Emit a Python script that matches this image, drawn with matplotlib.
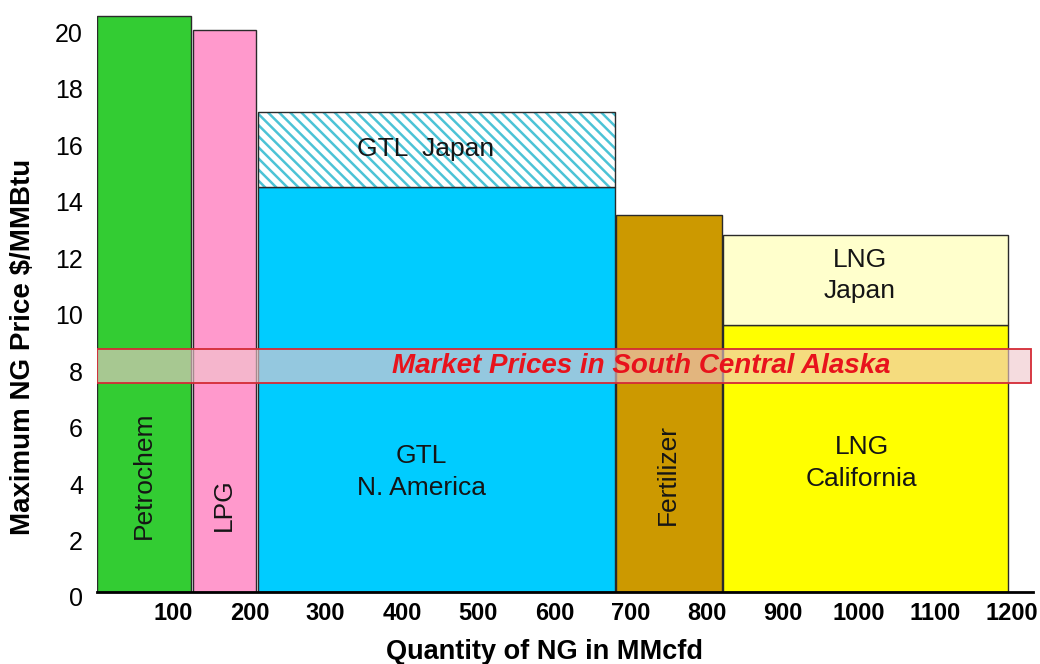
import matplotlib
matplotlib.use("Agg")
import matplotlib.pyplot as plt
from matplotlib.patches import Rectangle
from matplotlib.transforms import ScaledTranslation

plt.rcParams['font.family'] = ['Liberation Sans', 'DejaVu Sans']

# ---- data ----
segments = ["Petrochem", "LPG", "GTL\nN. America", "Fertilizer", "LNG\nCalifornia"]
seg_start = [0, 126, 211, 681, 821]          # MMcfd
seg_end = [123, 208, 679, 820, 1195]         # MMcfd
seg_price = [20.4, 19.9, 14.35, 13.35, 9.45]  # $/MMBtu
seg_colors = ["#33cc33", "#ff99cc", "#00ccff", "#cc9900", "#ffff00"]
seg_rot = [90, 90, 0, 90, 0]
seg_label_x = [61, 167, 426, 749, 1003]
seg_label_y = [4.15, 3.1, 4.25, 4.15, 4.57]

upper_labels = ["GTL  Japan", "LNG\nJapan"]
upper_start = [211, 821]
upper_end = [679, 1195]
upper_low = [14.35, 9.45]
upper_high = [17.0, 12.65]
upper_colors = ["hatch", "#ffffcc"]
upper_label_x = [431, 1001]
upper_label_y = [15.7, 11.2]

band_low, band_high = 7.4, 8.6
band_start, band_end = 0, 1226
band_text = "Market Prices in South Central Alaska"
band_text_x, band_text_y = 714, 8.0

xticks = [100, 200, 300, 400, 500, 600, 700, 800, 900, 1000, 1100, 1200]
yticks = [0, 2, 4, 6, 8, 10, 12, 14, 16, 18, 20]

# ---- figure ----
fig = plt.figure(figsize=(10.4, 6.64), dpi=100)
ax = fig.add_axes([97/1040, 1-592/664, 936/1040, 579/664])
ax.set_xlim(0, 1228)
ax.set_ylim(0, 20.5)

edge = "#2a2a2a"
for s, e, p, c in zip(seg_start, seg_end, seg_price, seg_colors):
    ax.bar(s, p, width=e - s, align='edge', color=c, edgecolor=edge, linewidth=1.0, zorder=2)

plt.rcParams['hatch.linewidth'] = 1.8
for s, e, lo, hi, c in zip(upper_start, upper_end, upper_low, upper_high, upper_colors):
    if c == "hatch":
        ax.bar(s, hi - lo, bottom=lo, width=e - s, align='edge', color="white",
               edgecolor="#4cc3d6", hatch='\\\\\\', linewidth=0, zorder=2)
        ax.bar(s, hi - lo, bottom=lo, width=e - s, align='edge', fill=False,
               edgecolor=edge, linewidth=1.0, zorder=2.1)
    else:
        ax.bar(s, hi - lo, bottom=lo, width=e - s, align='edge', color=c,
               edgecolor=edge, linewidth=1.0, zorder=2)

for lab, x, y, r in zip(segments, seg_label_x, seg_label_y, seg_rot):
    ax.text(x, y, lab, rotation=r, ha='center', va='center', fontsize=19,
            color="#151515", linespacing=1.4, zorder=4)
for lab, x, y in zip(upper_labels, upper_label_x, upper_label_y):
    ax.text(x, y, lab, ha='center', va='center', fontsize=19,
            color="#151515", linespacing=1.4, zorder=4)

# translucent market band
ax.add_patch(Rectangle((band_start, band_low), band_end - band_start, band_high - band_low,
                       facecolor=(0.94, 0.78, 0.80, 0.62), edgecolor="#d42a35",
                       linewidth=1.3, zorder=3))
ax.text(band_text_x, band_text_y, band_text, ha='center', va='center', fontsize=20,
        fontweight='bold', fontstyle='italic', color="#e8131c", zorder=4)

# axes styling
for sp in ['left', 'top', 'right']:
    ax.spines[sp].set_visible(False)
ax.spines['bottom'].set_linewidth(2.0)
ax.spines['bottom'].set_color("black")
ax.spines['bottom'].set_zorder(5)

ax.set_xticks(xticks)
ax.set_xticklabels([str(t) for t in xticks], fontsize=17, fontweight='bold')
ax.set_yticks(yticks)
ax.set_yticklabels([str(t) for t in yticks], fontsize=18)
ax.tick_params(axis='both', length=0)
ax.tick_params(axis='x', pad=7)
ax.tick_params(axis='y', pad=10)
shift = ScaledTranslation(0, -5 / 100, fig.dpi_scale_trans)
for lbl in ax.get_yticklabels():
    lbl.set_transform(lbl.get_transform() + shift)

ax.set_xlabel("Quantity of NG in MMcfd", fontsize=19.5, fontweight='bold')
ax.xaxis.set_label_coords((545 - 97) / 936, (592 - 639) / 579)
ax.set_ylabel("Maximum NG Price $/MMBtu", fontsize=20, fontweight='bold')
ax.yaxis.set_label_coords((36 - 97) / 936, (592 - 347) / 579)

fig.savefig("out.png", dpi=100)
